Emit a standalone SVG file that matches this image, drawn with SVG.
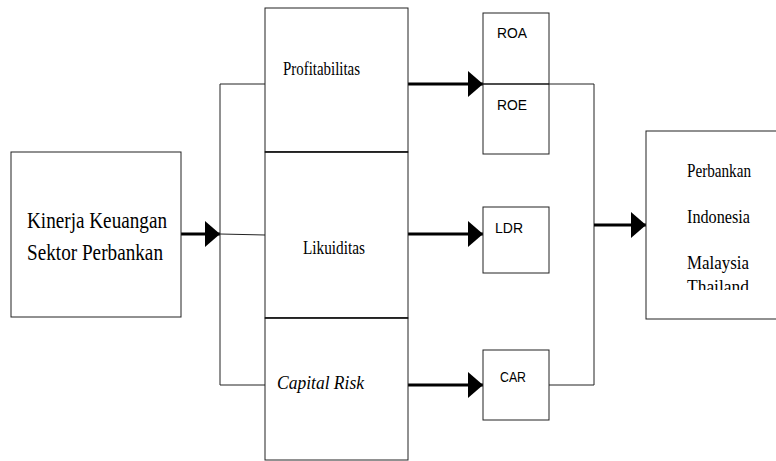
<svg xmlns="http://www.w3.org/2000/svg" width="776" height="461" viewBox="0 0 776 461">
<style>
.box{fill:#fff;stroke:#222;stroke-width:1}
.div{stroke:#111;stroke-width:1.5}
.thin{fill:none;stroke:#222;stroke-width:1}
.thick{fill:none;stroke:#000;stroke-width:3}
.serif{fill:#000}
.sans{fill:#000}
</style>
<defs>
<marker id="ah" markerUnits="userSpaceOnUse" markerWidth="15" markerHeight="26" viewBox="0 0 15 26" refX="15" refY="13" orient="auto">
<path d="M0,0 L15,13 L0,26 z" fill="#000"/>
</marker>
<clipPath id="clipR"><rect x="646" y="131" width="140" height="159"/></clipPath>
</defs>
<rect width="776" height="461" fill="#fff"/>

<g id="connectors">
<line class="thick" x1="181" y1="234" x2="220" y2="234" marker-end="url(#ah)"/>
<polyline class="thin" points="265,84 220,84 220,385 265,385"/>
<line class="thin" x1="220" y1="234" x2="265" y2="235"/>
<line class="thick" x1="408" y1="84" x2="483" y2="84" marker-end="url(#ah)"/>
<line class="thick" x1="408" y1="234" x2="483" y2="234" marker-end="url(#ah)"/>
<line class="thick" x1="408" y1="385" x2="483" y2="385" marker-end="url(#ah)"/>
<polyline class="thin" points="549,84 594,84 594,385 549,385"/>
<line class="thick" x1="594" y1="225" x2="646" y2="225" marker-end="url(#ah)"/>
</g>

<g id="kinerja" font-family="'Liberation Serif', 'DejaVu Serif', serif">
<rect class="box" x="11" y="152" width="170" height="165"/>
<text class="serif" x="27" y="228" font-size="24" textLength="140" lengthAdjust="spacingAndGlyphs">Kinerja Keuangan</text>
<text class="serif" x="27" y="260" font-size="24" textLength="136" lengthAdjust="spacingAndGlyphs">Sektor Perbankan</text>
</g>

<g id="profitabilitas" font-family="'Liberation Serif', 'DejaVu Serif', serif">
<rect class="box" x="265" y="8" width="143" height="144"/>
<text class="serif" x="283" y="75" font-size="18" textLength="77" lengthAdjust="spacingAndGlyphs">Profitabilitas</text>
</g>
<g id="likuiditas" font-family="'Liberation Serif', 'DejaVu Serif', serif">
<rect class="box" x="265" y="152" width="143" height="166"/>
<text class="serif" x="303" y="254" font-size="18" textLength="62" lengthAdjust="spacingAndGlyphs">Likuiditas</text>
</g>
<g id="capitalrisk" font-family="'Liberation Serif', 'DejaVu Serif', serif">
<rect class="box" x="265" y="318" width="143" height="142"/>
<text class="serif" x="277" y="389" font-size="19" font-style="italic" textLength="87" lengthAdjust="spacingAndGlyphs">Capital Risk</text>
</g>
<line class="div" x1="265" y1="152" x2="408" y2="152"/>
<line class="div" x1="265" y1="318" x2="408" y2="318"/>

<g id="roa-roe" font-family="'Liberation Sans', Arial, sans-serif" font-size="14">
<rect class="box" x="483" y="13" width="66" height="141"/>
<line class="div" x1="483" y1="84" x2="549" y2="84"/>
<text class="sans" x="497" y="38" textLength="30" lengthAdjust="spacingAndGlyphs">ROA</text>
<text class="sans" x="497" y="110" textLength="30" lengthAdjust="spacingAndGlyphs">ROE</text>
</g>
<g id="ldr" font-family="'Liberation Sans', Arial, sans-serif" font-size="14">
<rect class="box" x="483" y="207" width="66" height="66"/>
<text class="sans" x="495" y="233" textLength="28" lengthAdjust="spacingAndGlyphs">LDR</text>
</g>
<g id="car" font-family="'Liberation Sans', Arial, sans-serif" font-size="14">
<rect class="box" x="483" y="350" width="66" height="70"/>
<text class="sans" x="500" y="382" textLength="26" lengthAdjust="spacingAndGlyphs">CAR</text>
</g>

<g id="perbankan" font-family="'Liberation Serif', 'DejaVu Serif', serif">
<rect class="box" x="646" y="131" width="140" height="188"/>
<text class="serif" x="687" y="177" font-size="19" textLength="64" lengthAdjust="spacingAndGlyphs">Perbankan</text>
<text class="serif" x="687" y="223" font-size="19" textLength="63" lengthAdjust="spacingAndGlyphs">Indonesia</text>
<text class="serif" x="687" y="269" font-size="19" textLength="62" lengthAdjust="spacingAndGlyphs">Malaysia</text>
<text class="serif" x="687" y="293" font-size="19" textLength="62" lengthAdjust="spacingAndGlyphs" clip-path="url(#clipR)">Thailand</text>
</g>
</svg>
